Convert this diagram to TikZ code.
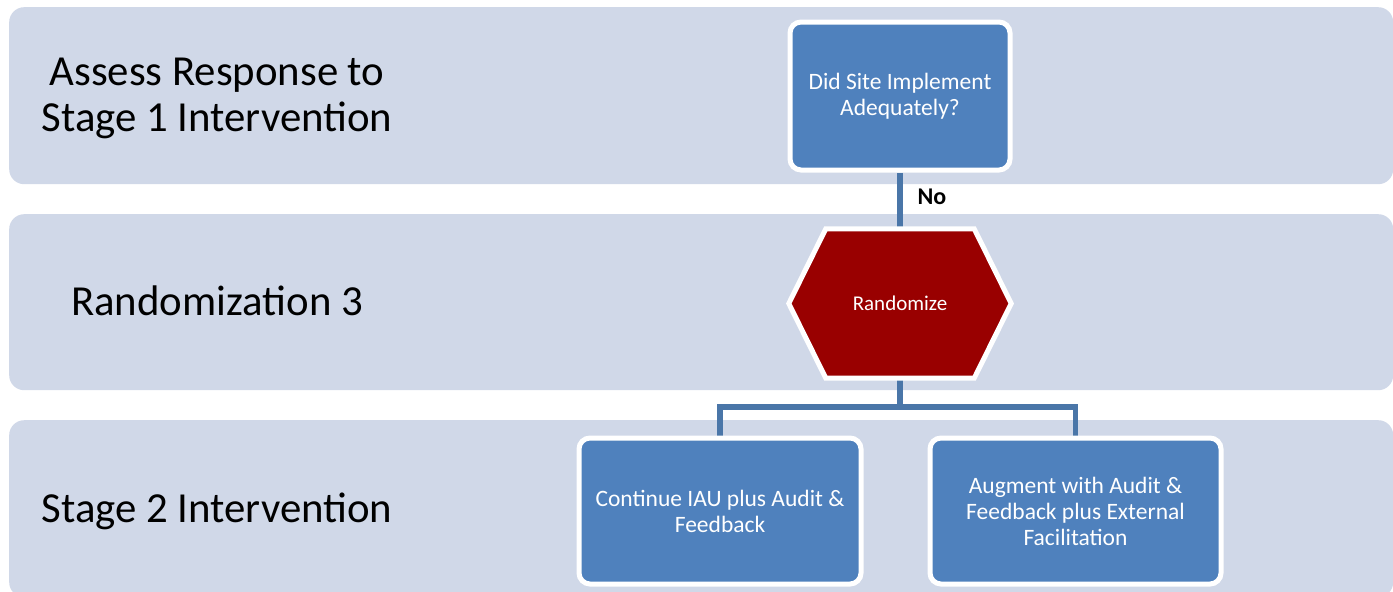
\documentclass[tikz,border=0pt]{standalone}
\usepackage{fontspec}
\setmainfont{Carlito}
\usetikzlibrary{calc}
\definecolor{bandfill}{HTML}{D0D8E8}
\definecolor{boxfill}{HTML}{4F81BD}
\definecolor{hexfill}{HTML}{990000}
\definecolor{linkcol}{HTML}{4A76A8}
\pgfdeclarelayer{lanes}
\pgfdeclarelayer{links}
\pgfsetlayers{lanes,links,main}
\tikzset{
  band/.style={fill=bandfill, draw=none, rounded corners=15pt, anchor=north west, inner sep=0pt},
  bandlabel/.style={align=center, text=black, font=\fontsize{42.8}{46}\selectfont},
  stepbox/.style={fill=boxfill, draw=white, line width=5pt, rounded corners=11pt,
    text=white, align=center, font=\fontsize{23.5}{26}\selectfont, inner sep=0pt},
  link/.style={draw=linkcol, line width=5.5pt},
}
\begin{document}
\begin{tikzpicture}[x=1pt,y=-1pt]
\useasboundingbox (0,0) rectangle (1393,592);

% swim-lane bands
\begin{pgfonlayer}{lanes}
\fill[white] (0,0) rectangle (1393,592);
\node[band, minimum width=1384pt, minimum height=177pt] (bandA) at (9,7) {};
\node[band, minimum width=1384pt, minimum height=176pt] (bandB) at (9,214) {};
\node[band, minimum width=1384pt, minimum height=177pt] (bandC) at (9,420) {};
\end{pgfonlayer}

% lane titles
\node[bandlabel] (labA) at (217,98.5) {Assess Response to\\Stage 1 Intervention};
\node[bandlabel] (labB) at (217,301) {Randomization 3};
\node[bandlabel] (labC) at (217,511) {Stage 2 Intervention};

% flow nodes
\node[stepbox, minimum width=220pt, minimum height=148pt] (check) at (900,96)
  {Did Site Implement\\Adequately?};
\node[inner sep=0pt, minimum width=222pt, minimum height=149pt, text=white,
  font=\fontsize{21}{25}\selectfont] (rand) at (900,303.5) {Randomize};
\node[stepbox, minimum width=282pt, minimum height=146pt] (cont) at (720,511)
  {Continue IAU plus Audit \&\\Feedback};
\node[stepbox, minimum width=291pt, minimum height=146pt] (augm) at (1075.5,511)
  {Augment with Audit \&\\Feedback plus External\\Facilitation};
\coordinate (split) at (900,407);
\node[font=\bfseries\fontsize{24}{26}\selectfont, anchor=west] (no) at (914,197) {No};

% connectors, then the hexagon over their ends
\begin{pgfonlayer}{links}
\draw[link] (check.south) -- (rand.north);
\draw[link] (rand.south) -- (split);
\draw[link] (cont.north) |- (split) -| (augm.north);
\filldraw[fill=hexfill, draw=white, line width=5pt, line join=miter]
  (rand.west) -- ($(rand.north west)+(37,0)$) -- ($(rand.north east)+(-37,0)$)
  -- (rand.east) -- ($(rand.south east)+(-37,0)$) -- ($(rand.south west)+(37,0)$) -- cycle;
\end{pgfonlayer}
\end{tikzpicture}
\end{document}
